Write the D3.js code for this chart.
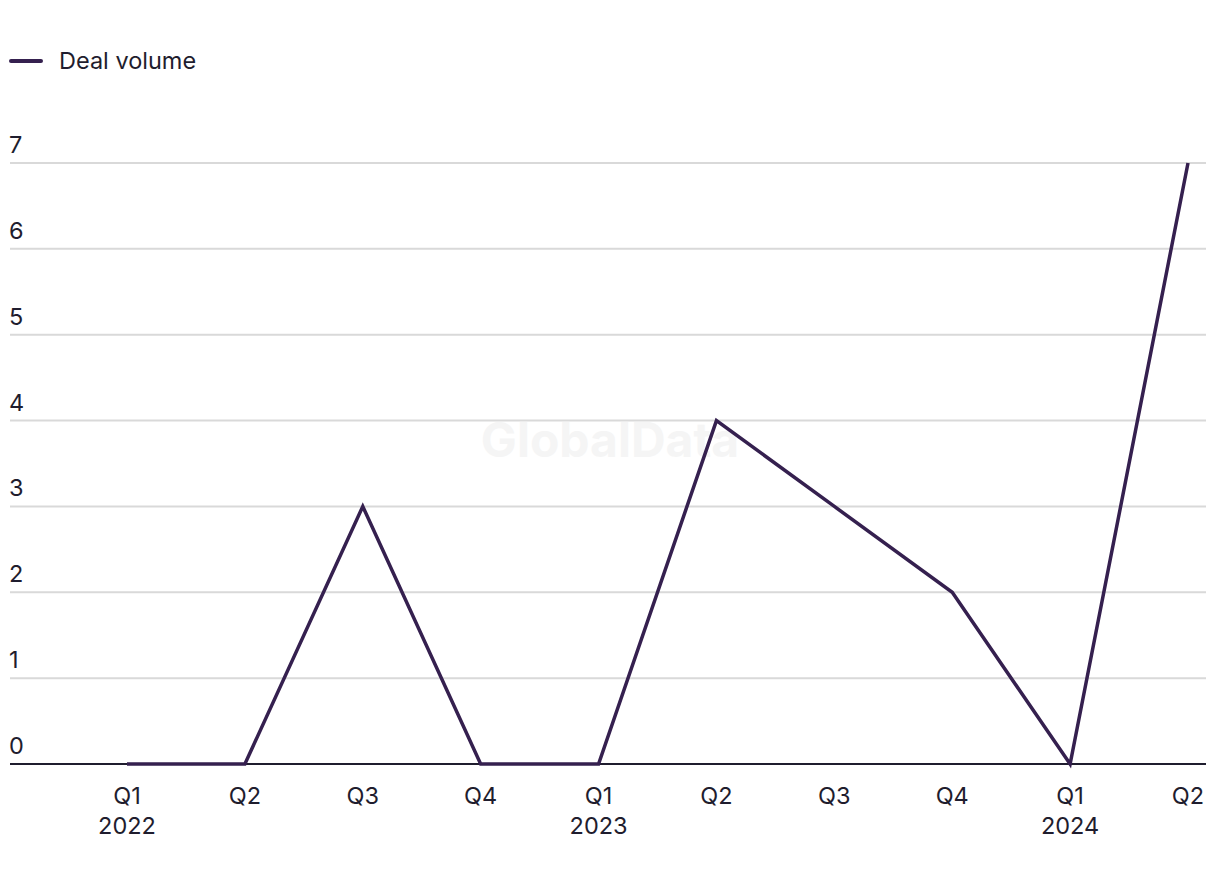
<!DOCTYPE html>
<html><head><meta charset="utf-8">
<script src="https://cdn.jsdelivr.net/npm/d3@7"></script>
<style>body{margin:0;background:#fff;} svg{display:block;font-family:Inter,"Noto Sans",sans-serif;}</style>
</head><body>
<svg id="c" width="1220" height="884"></svg>
<script>
const quarters = ["Q1","Q2","Q3","Q4","Q1","Q2","Q3","Q4","Q1","Q2"];
const years = ["2022","","","","2023","","","","2024",""];
const dealVolume = [0,0,3,0,0,4,3,2,0,7];
const yTicks = [0,1,2,3,4,5,6,7];
const seriesName = "Deal volume";

const svg = d3.select("#c");
const idx = d3.range(quarters.length);
const x = d3.scalePoint().domain(idx).range([127,1188]);
const y = d3.scaleLinear().domain([0,7]).range([764,163]);
const textColor = "#1f1d2e", lineColor = "#35204f";
const fs = 23.5;

// watermark
svg.append("text").attr("x",610).attr("y",457).attr("text-anchor","middle")
  .attr("font-size",48).attr("font-weight",700).attr("fill","#f5f5f5").text("GlobalData");

// gridlines
svg.append("g").selectAll("line").data(yTicks.filter(d=>d>0)).join("line")
  .attr("x1",10).attr("x2",1206).attr("y1",d=>y(d)).attr("y2",d=>y(d))
  .attr("stroke","#d9d9d9").attr("stroke-width",2);
// y labels
svg.append("g").selectAll("text").data(yTicks).join("text")
  .attr("x",9).attr("y",d=>y(d)-10).attr("font-size",fs).attr("fill",textColor).text(d=>d);
// baseline
svg.append("line").attr("x1",10).attr("x2",1206).attr("y1",y(0)).attr("y2",y(0))
  .attr("stroke",textColor).attr("stroke-width",2);

// x labels
const xl = svg.append("g");
xl.selectAll("text.q").data(idx).join("text").attr("class","q")
  .attr("x",d=>x(d)).attr("y",804).attr("text-anchor","middle").attr("font-size",fs).attr("fill",textColor)
  .text(d=>quarters[d]);
xl.selectAll("text.yr").data(idx.filter(d=>years[d])).join("text").attr("class","yr")
  .attr("x",d=>x(d)).attr("y",834).attr("text-anchor","middle").attr("font-size",fs).attr("fill",textColor)
  .text(d=>years[d]);

// line
svg.append("path").datum(idx).attr("fill","none").attr("stroke",lineColor).attr("stroke-width",3.5)
  .attr("stroke-linejoin","miter")
  .attr("d",d3.line().x(d=>x(d)).y(d=>y(dealVolume[d])));

// legend
svg.append("line").attr("x1",11).attr("x2",41).attr("y1",61).attr("y2",61)
  .attr("stroke",lineColor).attr("stroke-width",4).attr("stroke-linecap","round");
svg.append("text").attr("x",59).attr("y",69).attr("font-size",fs).attr("fill",textColor).text(seriesName);
</script>
</body></html>
